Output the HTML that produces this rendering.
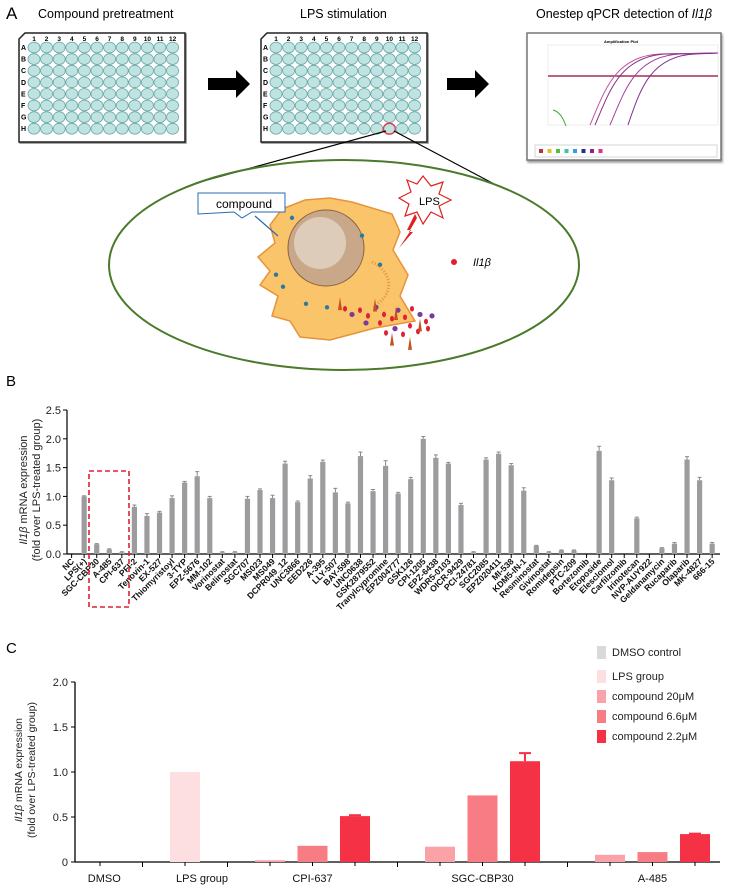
<!DOCTYPE html>
<html><head><meta charset="utf-8">
<style>
html,body{margin:0;padding:0;background:#fff;}
svg{display:block;font-family:"Liberation Sans",sans-serif;}
</style></head>
<body>
<svg id="fig" width="739" height="887" viewBox="0 0 739 887" xmlns="http://www.w3.org/2000/svg">
<!-- Panel A -->
<g>
<text x="6" y="19" font-size="17">A</text>
<text x="38" y="18" font-size="12.5">Compound pretreatment</text>
<text x="300" y="18" font-size="12.5">LPS stimulation</text>
<text x="536" y="18" font-size="12.5">Onestep qPCR detection of <tspan font-style="italic">Il1β</tspan></text>
<g id="plates"></g>
<polygon points="208,78 236,78 236,70 250,84 236,98 236,90 208,90" fill="#000"/>
<polygon points="447,78 475,78 475,70 489,84 475,98 475,90 447,90" fill="#000"/>
<g>
<rect x="527" y="33" width="194" height="127" fill="#fff" stroke="#777" stroke-width="1.5" style="filter:drop-shadow(1px 2px 1px #999)"/>
<text x="621" y="43" font-size="4" text-anchor="middle" font-weight="bold">Amplification Plot</text>
<rect x="548" y="45" width="170" height="80" fill="#fff" stroke="#ddd" stroke-width="0.5"/>
<line x1="548" y1="76" x2="718" y2="76" stroke="#a03050" stroke-width="1.5"/>
<path d="M590,125 C605,90 615,56 660,54 L718,53" fill="none" stroke="#c050a0" stroke-width="1"/>
<path d="M595,125 C610,90 620,57 665,54 L718,53" fill="none" stroke="#803080" stroke-width="1"/>
<path d="M610,125 C625,90 635,56 680,54 L718,53" fill="none" stroke="#a040a0" stroke-width="1"/>
<path d="M628,125 C640,90 650,56 695,54 L718,53" fill="none" stroke="#803090" stroke-width="1"/>
<path d="M553,110 C560,112 563,118 566,126" fill="none" stroke="#3a3" stroke-width="1"/>
<rect x="535" y="145" width="182" height="12" fill="#fff" stroke="#bbb" stroke-width="0.6"/>
<g id="qleg"></g>
</g>
<g>
<line x1="386" y1="131" x2="196" y2="183" stroke="#000" stroke-width="1.2"/>
<line x1="394" y1="131" x2="496" y2="185" stroke="#000" stroke-width="1.2"/>
<ellipse cx="344" cy="265" rx="235" ry="105" fill="none" stroke="#4a7a2a" stroke-width="2"/>
<path d="M282,209 L305,200 L330,198 L352,202 L392,214 L400,232 L393,250 L408,275 L400,296 L415,321 L375,328 L330,340 L300,337 L290,321 L272,316 L278,296 L260,285 L270,271 L258,257 L275,243 L270,225 Z" fill="#f9c46a" stroke="#e9923a" stroke-width="1.5"/>
<circle cx="326" cy="248" r="38" fill="#c8a888" stroke="#8a6040" stroke-width="1"/>
<circle cx="320" cy="243" r="26" fill="#e6dccf" opacity="0.7"/>
<path d="M372,262 C392,272 395,292 376,305" fill="none" stroke="#e9923a" stroke-width="3" stroke-dasharray="1 2"/>
<path d="M198,193 L285,193 L285,212 L252,212 L242,218 L234,212 L198,214 Z" fill="#fff" stroke="#2a6ab0" stroke-width="1"/>
<text x="216" y="208" font-size="12">compound</text>
<line x1="255" y1="216" x2="278" y2="236" stroke="#2a6ab0" stroke-width="1.2"/>
<g transform="translate(3,-86)">
<polygon points="420,262 428,272 440,268 436,280 448,286 436,292 440,304 428,298 420,310 414,298 402,302 406,290 396,284 408,278 404,266 414,270" fill="#fff" stroke="#e02020" stroke-width="1.2"/>
<text x="416" y="291" font-size="11">LPS</text>
<polygon points="412,300 404,316 408,316 396,334 410,318 406,318 414,304" fill="#e02020"/>
</g>
<circle cx="454" cy="262" r="3" fill="#e02030"/>
<text x="473" y="266" font-size="11" font-style="italic">Il1β</text>
<g id="dots"></g>
</g>
</g>
<!-- Panel B -->
<text x="6" y="386" font-size="15">B</text>
<g id="chartB"></g>
<!-- Panel C -->
<text x="6" y="653" font-size="15">C</text>
<g id="chartC"></g>
</svg>
<script>
const NS='http://www.w3.org/2000/svg';
function mk(tag,attrs,parent,txt){const e=document.createElementNS(NS,tag);for(const k in attrs)e.setAttribute(k,attrs[k]);if(txt!==undefined)e.textContent=txt;parent.appendChild(e);return e;}

// ---- Panel B data ----
const bCategories=["NC","LPS(+)","SGC-CBP30","A-485","CPI-637","PFI-2","Tenovin-1","EX-527","Thiomyristoyl","3-TYP","EPZ-5676","MM-102","Vorinostat","Belinostat","SGC707","MS023","MS049","DCPR049_12","UNC3866","EED226","A-395","LLY-507","BAY-598","UNC0638","GSK2879552","Tranylcypromine","EPZ004777","GSK126","CPI-1205","EPZ-6438","WDR5-0103","OICR-9429","PCI-24781","SGC2085","EPZ020411","MI-538","KDM5-IN-1","Resminostat","Givinostat","Romidepsin","PTC-209","Bortezomib","Etoposide","Elesclomol","Carfilzomib","Irinotecan","NVP-AUY922","Geldanamycin","Rucaparib","Olaparib","MK-4827","666-15"];
const bValues=[0,1.0,0.17,0.08,0.03,0.82,0.66,0.72,0.97,1.24,1.35,0.97,0.03,0.03,0.96,1.11,0.97,1.57,0.9,1.31,1.6,1.07,0.88,1.7,1.09,1.53,1.05,1.3,2.0,1.67,1.57,0.85,0.03,1.64,1.74,1.54,1.1,0.14,0.03,0.06,0.06,0,1.79,1.28,0,0.62,0,0.1,0.18,1.64,1.28,0.18];
const bErrors=[0,0.01,0.01,0.01,0.01,0.03,0.04,0.02,0.04,0.02,0.08,0.03,0.01,0.01,0.04,0.02,0.05,0.04,0.02,0.05,0.03,0.07,0.02,0.07,0.03,0.09,0.02,0.03,0.04,0.05,0.02,0.03,0.01,0.03,0.03,0.03,0.05,0.01,0.01,0.01,0.01,0,0.08,0.04,0,0.02,0,0.01,0.02,0.05,0.05,0.02];
const bTicks=[0,0.5,1.0,1.5,2.0,2.5];
const bTickLabels=["0.0","0.5","1.0","1.5","2.0","2.5"];

// ---- Panel C data ----
const cGroups=["DMSO","LPS group","CPI-637","SGC-CBP30","A-485"];
const cSeriesNames=["DMSO control","LPS group","compound 20μM","compound 6.6μM","compound 2.2μM"];
const cControlValues=[0,1.0];
const cDose20=[0.02,0.17,0.08];
const cDose66=[0.18,0.74,0.11];
const cDose22=[0.51,1.12,0.31];
const cErr22=[0.01,0.09,0.005];
const cTicks=[0,0.5,1.0,1.5,2.0];
const cTickLabels=["0","0.5","1.0","1.5","2.0"];

// ---- Panel A plates ----
(function(){
  const g=document.getElementById('plates');
  [[19,'plate-compound'],[261,'plate-lps']].forEach(([x0,name])=>{
    const p=mk('g',{},g);
    
    
    mk('polygon',{points:`${x0+6},33 ${x0+166},33 ${x0+166},142 ${x0},142 ${x0},39`,fill:'#fff',stroke:'#222','stroke-width':1.5,style:'filter:drop-shadow(1px 1px 0 #888)'},p);
    for(let c=0;c<12;c++){
      mk('text',{x:x0+15+c*12.6,y:41,'font-size':6.5,'text-anchor':'middle','font-weight':'bold'},p,String(c+1));
      for(let r=0;r<8;r++){
        const hl=(name==='plate-lps'&&r===7&&c===9);
        mk('ellipse',{cx:x0+15+c*12.6,cy:47.5+r*11.6,rx:6,ry:5.4,fill:'#bfe3e1',stroke:hl?'#e04050':'#6aa6a6','stroke-width':hl?1.5:0.8},p);
      }
    }
    "ABCDEFGH".split('').forEach((L,r)=>mk('text',{x:x0+2,y:50+r*11.6,'font-size':7,'font-weight':'bold'},p,L));
  });
  const ql=document.getElementById('qleg');
  ['#c03040','#e0c020','#50c040','#40c0b0','#30a0e0','#203090','#902090','#e03080'].forEach((c,i)=>mk('rect',{x:539+i*8.5,y:149,width:4,height:4,fill:c},ql));
  const d=document.getElementById('dots');
  const Y=y=>198+(y-282)*0.71;
  const pts=[[345,438,'r'],[352,446,'p'],[360,440,'r'],[368,448,'r'],[376,436,'p'],[384,446,'r'],[392,452,'r'],[398,440,'p'],[405,450,'r'],[412,438,'r'],[420,446,'p'],[426,456,'r'],[410,462,'r'],[395,466,'p'],[418,470,'r'],[428,466,'r'],[380,458,'r'],[366,458,'p'],[403,474,'r'],[386,472,'r'],[432,448,'p']];
  pts.forEach(([x,y,t])=>{ if(t==='r') mk('ellipse',{cx:x,cy:Y(y),rx:2,ry:2.8,fill:'#e02030'},d); else mk('circle',{cx:x,cy:Y(y),r:2.6,fill:'#7a3a9a'},d);});
  [[340,430],[375,432],[396,444],[420,460],[392,480],[410,486]].forEach(([x,y])=>mk('polygon',{points:`${x-2},${Y(y)+7} ${x},${Y(y)-6} ${x+2},${Y(y)+7}`,fill:'#c85020'},d));
  [[362,335],[380,376],[276,390],[283,407],[327,436],[306,431],[292,310]].forEach(([x,y])=>mk('circle',{cx:x,cy:Y(y),r:2.2,fill:'#2a7aa0'},d));
})();

// ---- Panel B chart ----
(function(){
  const g=document.getElementById('chartB');
  const X0=67,Y0=554,YS=57.6,XS=12.56,XF=71.6,XE=720;
  const yB=v=>Y0-v*YS, xB=i=>XF+i*XS;
  mk('line',{x1:X0,y1:yB(2.5),x2:X0,y2:Y0,stroke:'#000','stroke-width':1.2},g);
  mk('line',{x1:X0,y1:Y0,x2:XE,y2:Y0,stroke:'#000','stroke-width':1.2},g);
  bTicks.forEach((t,i)=>{
    mk('line',{x1:X0-4,y1:yB(t),x2:X0,y2:yB(t),stroke:'#000','stroke-width':1},g);
    const tl=mk('text',{x:X0-6,y:yB(t)+4,'font-size':11,'text-anchor':'end',fill:'#222'},g,bTickLabels[i]);
    
    
  });
  const at=mk('text',{transform:`translate(27,490) rotate(-90)`,'font-size':11,'text-anchor':'middle',fill:'#222'},g);
  
  
  mk('tspan',{'font-style':'italic'},at,'Il1β');
  mk('tspan',{},at,' mRNA expression');
  const at2=mk('text',{transform:`translate(40,490) rotate(-90)`,'font-size':11,'text-anchor':'middle',fill:'#222'},g,'(fold over LPS-treated group)');
  
  
  bCategories.forEach((c,i)=>{
    const x=xB(i),v=bValues[i],e=bErrors[i];
    mk('line',{x1:x,y1:Y0,x2:x,y2:Y0+4,stroke:'#000','stroke-width':1},g);
    if(v>0){
      const b=mk('rect',{x:x-2.6,y:yB(v),width:5.2,height:Y0-yB(v),fill:'#9c9c9e'},g);
      
      
      if(e>0){
        mk('line',{x1:x,y1:yB(v),x2:x,y2:yB(v+e),stroke:'#888','stroke-width':1},g);
        mk('line',{x1:x-2,y1:yB(v+e),x2:x+2,y2:yB(v+e),stroke:'#888','stroke-width':1},g);
      }
    }
    const t=mk('text',{transform:`translate(${x+3},${Y0+8}) rotate(-45)`,'font-size':8.6,'font-weight':'bold','text-anchor':'end',fill:'#111'},g,c);
    
    
  });
  const box=mk('rect',{x:89,y:471,width:40,height:136,fill:'none',stroke:'#e02030','stroke-width':1.6,'stroke-dasharray':'5 3'},g);
  
  
})();

// ---- Panel C chart ----
(function(){
  const g=document.getElementById('chartC');
  const X0=75,Y0=862,YS=90,XE=720,SX0=100,SS=42.5,BW=30;
  const yC=v=>Y0-v*YS, xC=s=>SX0+s*SS;
  const colors=['#d9d9d9','#fddfe2','#f9a3a8','#f77c84','#f53245'];
  mk('line',{x1:X0,y1:yC(2),x2:X0,y2:Y0,stroke:'#000','stroke-width':1.3},g);
  mk('line',{x1:X0,y1:Y0,x2:XE,y2:Y0,stroke:'#000','stroke-width':1.3},g);
  cTicks.forEach((t,i)=>{
    mk('line',{x1:X0-4,y1:yC(t),x2:X0,y2:yC(t),stroke:'#000','stroke-width':1},g);
    const tl=mk('text',{x:X0-7,y:yC(t)+4,'font-size':11,'text-anchor':'end',fill:'#222'},g,cTickLabels[i]);
    
    
  });
  const at=mk('text',{transform:`translate(22,770) rotate(-90)`,'font-size':10.5,'text-anchor':'middle',fill:'#222'},g);
  
  
  mk('tspan',{'font-style':'italic'},at,'Il1β');
  mk('tspan',{},at,' mRNA expression');
  const at2=mk('text',{transform:`translate(35,770) rotate(-90)`,'font-size':10.5,'text-anchor':'middle',fill:'#222'},g,'(fold over LPS-treated group)');
  
  
  function bar(s,v,col,name,err){
    const x=xC(s);
    mk('line',{x1:x,y1:Y0,x2:x,y2:Y0+4,stroke:'#000','stroke-width':1},g);
    const r=mk('rect',{x:x-BW/2,y:yC(v),width:BW,height:Math.max(Y0-yC(v),0),fill:col},g);
    
    
    if(err){
      mk('line',{x1:x,y1:yC(v),x2:x,y2:yC(v+err),stroke:col,'stroke-width':2},g);
      mk('line',{x1:x-6,y1:yC(v+err),x2:x+6,y2:yC(v+err),stroke:col,'stroke-width':2},g);
    }
  }
  bar(0,cControlValues[0],colors[0],'bar-dmso');
  bar(2,cControlValues[1],colors[1],'bar-lps-group');
  for(let k=0;k<3;k++){
    const base=4+k*4;
    bar(base,cDose20[k],colors[2],'bar-'+cGroups[k+2].toLowerCase()+'-20um');
    bar(base+1,cDose66[k],colors[3],'bar-'+cGroups[k+2].toLowerCase()+'-6.6um');
    bar(base+2,cDose22[k],colors[4],'bar-'+cGroups[k+2].toLowerCase()+'-2.2um',cErr22[k]);
  }
  [1,3,7,11].forEach(s=>mk('line',{x1:xC(s),y1:Y0,x2:xC(s),y2:Y0+5,stroke:'#000','stroke-width':1},g));
  const labelSlots=[0.1,2.4,5,9,13];
  cGroups.forEach((n,i)=>{
    const t=mk('text',{x:xC(labelSlots[i]),y:882,'font-size':11,'text-anchor':'middle',fill:'#111'},g,n);
    
    
  });
  const legY=[652,676,696,716,736];
  cSeriesNames.forEach((n,i)=>{
    const lg=mk('g',{},g);
    
    
    mk('rect',{x:597,y:legY[i]-6,width:9,height:13,fill:colors[i]},lg);
    mk('text',{x:612,y:legY[i]+4,'font-size':11,fill:'#222'},lg,n);
  });
})();
</script>
</body></html>
